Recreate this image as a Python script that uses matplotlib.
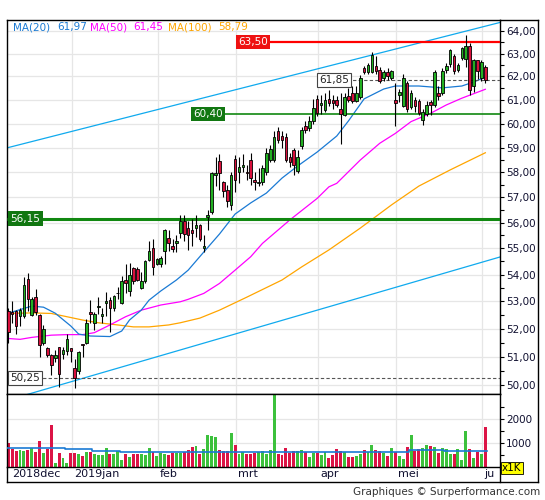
import matplotlib
matplotlib.use('Agg')
import matplotlib.pyplot as plt
import matplotlib.transforms as mtransforms
from matplotlib.lines import Line2D
from matplotlib.ticker import FixedLocator, FuncFormatter, NullFormatter
import numpy as np
import pandas as pd

# trading days shown (Euronext calendar)
HOLIDAYS = ['2018-12-25', '2018-12-26', '2019-01-01', '2019-04-19', '2019-04-22', '2019-05-01']
dates = pd.bdate_range('2018-12-05', '2019-06-03', freq='C', holidays=HOLIDAYS)
month_labels = ['2018dec', '2019jan', 'feb', 'mrt', 'apr', 'mei', 'ju']

opens = [
    52.64, 52.60, 52.65, 52.45, 52.45, 53.85, 52.50, 53.15, 52.50, 51.50,
    51.30, 51.05, 50.95, 51.35, 51.10, 51.20, 51.30, 50.60, 50.50, 51.45,
    51.50, 52.60, 52.20, 52.80, 52.45, 52.95, 53.05, 52.75, 53.30, 52.95,
    53.80, 53.40, 54.25, 54.20, 53.50, 53.75, 54.55, 55.00, 54.40, 54.40,
    54.90, 55.40, 55.10, 55.20, 55.60, 56.05, 55.80, 55.70, 55.80, 55.90,
    55.00, 56.20, 56.40, 57.90, 58.45, 57.60, 57.30, 56.70, 58.55, 58.00,
    58.20, 58.00, 58.50, 57.70, 57.55, 57.60, 58.00, 58.50, 58.50, 59.70,
    59.50, 59.45, 58.60, 58.90, 58.05, 59.05, 59.90, 59.80, 60.10, 61.05,
    60.80, 60.55, 61.05, 61.00, 61.00, 60.60, 60.35, 61.15, 61.30, 60.95,
    61.10, 62.35, 62.20, 62.20, 62.45, 62.30, 61.95, 62.20, 61.95, 61.00,
    61.20, 60.75, 61.70, 60.70, 61.00, 60.95, 60.15, 60.40, 60.90, 60.80,
    61.30, 61.30, 62.30, 62.55, 62.90, 62.30, 62.80, 62.75, 63.35, 61.60,
    62.70, 61.95, 62.40]
highs = [
    52.75, 53.00, 52.70, 52.75, 53.90, 54.05, 53.15, 53.45, 52.55, 52.15,
    51.35, 51.10, 51.25, 51.35, 51.35, 51.80, 51.30, 50.90, 51.20, 51.45,
    52.35, 53.05, 52.60, 53.15, 52.75, 53.35, 53.15, 53.25, 53.55, 53.95,
    54.40, 54.45, 54.30, 54.30, 54.10, 54.55, 55.30, 55.35, 54.65, 54.70,
    55.75, 55.70, 55.35, 55.50, 56.30, 56.30, 56.05, 56.15, 56.30, 55.95,
    55.50, 56.50, 58.00, 58.60, 58.75, 57.65, 57.50, 58.00, 58.70, 58.60,
    58.75, 58.30, 58.80, 58.00, 58.15, 58.30, 59.00, 59.10, 59.70, 59.85,
    59.70, 59.60, 58.80, 59.00, 58.90, 59.85, 60.10, 60.30, 61.05, 61.20,
    61.20, 61.30, 61.40, 61.20, 61.15, 61.30, 61.30, 61.50, 61.60, 61.60,
    62.05, 62.45, 62.60, 63.05, 62.90, 62.40, 62.30, 62.35, 62.30, 61.70,
    61.45, 62.10, 61.80, 61.40, 61.10, 61.05, 60.60, 60.95, 61.00, 62.30,
    61.60, 62.35, 62.60, 63.20, 63.00, 62.60, 63.30, 63.80, 63.45, 62.75,
    62.70, 62.70, 62.50]
lows = [
    51.49, 52.20, 51.80, 52.10, 52.40, 52.65, 52.45, 52.50, 51.00, 51.40,
    51.00, 50.35, 50.80, 49.95, 50.90, 51.05, 50.80, 49.90, 50.40, 51.00,
    51.45, 52.20, 51.95, 52.55, 52.20, 52.45, 51.90, 52.65, 53.10, 52.90,
    53.30, 53.20, 53.65, 53.75, 53.45, 53.70, 54.50, 54.00, 54.35, 54.30,
    54.40, 54.90, 54.85, 54.85, 55.40, 55.30, 54.95, 55.10, 55.45, 55.30,
    54.85, 55.70, 56.35, 57.45, 57.30, 57.00, 56.60, 56.50, 57.20, 57.55,
    58.00, 57.70, 57.50, 57.30, 57.45, 57.50, 57.90, 58.40, 58.40, 59.20,
    59.00, 58.40, 58.20, 57.90, 57.95, 58.95, 59.60, 59.70, 60.00, 60.30,
    60.40, 60.50, 60.75, 60.60, 60.70, 59.15, 60.30, 60.90, 60.85, 60.90,
    61.05, 62.10, 62.10, 62.15, 62.10, 61.70, 61.80, 61.85, 61.85, 59.90,
    60.90, 60.70, 60.50, 60.60, 60.50, 60.35, 59.95, 60.30, 60.35, 60.70,
    61.00, 61.20, 62.15, 62.40, 62.10, 62.20, 62.70, 62.40, 61.20, 61.35,
    61.90, 61.80, 61.70]
closes = [
    51.88, 52.55, 52.10, 52.70, 53.60, 53.10, 53.10, 52.60, 51.40, 52.00,
    51.05, 50.70, 51.05, 50.40, 51.25, 51.65, 51.20, 50.25, 51.15, 51.40,
    52.20, 52.55, 52.55, 52.85, 52.55, 53.00, 52.75, 53.20, 53.30, 53.75,
    53.70, 54.00, 53.75, 53.80, 53.75, 54.50, 54.90, 54.30, 54.60, 54.65,
    55.70, 55.20, 54.98, 55.30, 56.05, 55.55, 55.50, 55.60, 55.90, 55.35,
    55.10, 56.30, 57.95, 57.95, 57.95, 57.25, 56.85, 57.90, 57.70, 58.20,
    58.30, 57.95, 57.75, 57.60, 57.60, 58.15, 58.80, 58.95, 59.45, 59.30,
    59.30, 58.50, 58.40, 58.30, 58.60, 59.75, 59.75, 60.10, 60.65, 60.45,
    60.85, 61.00, 60.85, 60.85, 60.80, 60.40, 61.10, 61.00, 60.95, 61.30,
    61.95, 62.20, 62.50, 62.95, 62.25, 61.80, 62.20, 62.00, 62.25, 60.85,
    61.35, 61.95, 60.60, 61.30, 60.75, 60.45, 60.50, 60.80, 60.80, 62.20,
    61.15, 62.25, 62.45, 63.15, 62.25, 62.50, 63.25, 63.35, 61.40, 62.70,
    62.25, 62.65, 61.85]
volumes = [
    1013, 750, 667, 708, 681, 708, 778, 639, 1097, 569,
    764, 1764, 181, 597, 375, 181, 597, 597, 542, 458,
    639, 639, 542, 500, 500, 792, 542, 542, 667, 292,
    542, 431, 542, 542, 542, 486, 778, 625, 458, 569,
    528, 500, 569, 597, 569, 625, 708, 847, 875, 542,
    736, 1333, 1292, 1250, 694, 667, 667, 1431, 917, 542,
    639, 542, 542, 569, 625, 667, 542, 708, 3300, 542,
    500, 792, 597, 667, 667, 708, 639, 431, 569, 597,
    500, 639, 361, 500, 750, 667, 611, 431, 431, 472,
    542, 708, 611, 917, 708, 667, 597, 458, 778, 611,
    458, 333, 847, 1333, 667, 764, 806, 917, 875, 847,
    597, 806, 750, 542, 528, 750, 292, 1514, 750, 375,
    639, 528, 1681]

# moving averages (candle index, value)
ma20_idx = [0, 6, 9, 12, 16, 18, 21, 26, 29, 31, 34, 36, 39, 43, 46, 50, 54, 58, 62, 66,
            70, 74, 79, 84, 87, 91, 96, 99, 105, 111, 116, 119, 122]
ma20_val = [52.57, 52.83, 52.79, 52.57, 52.10, 51.81, 51.74, 51.72, 51.92, 52.32, 52.68,
            53.05, 53.39, 53.80, 54.17, 54.86, 55.55, 56.33, 56.77, 57.16, 57.76, 58.25,
            58.82, 59.48, 60.11, 61.04, 61.46, 61.59, 61.59, 61.51, 61.59, 61.76, 61.97]
ma50_idx = [0, 3, 6, 11, 15, 19, 22, 26, 30, 34, 39, 44, 46, 50, 54, 58, 62, 65, 72, 79,
            82, 84, 90, 95, 99, 103, 108, 112, 116, 122]
ma50_val = [51.65, 51.62, 51.69, 51.77, 51.79, 51.79, 51.86, 52.14, 52.44, 52.68, 52.87,
            52.99, 53.08, 53.30, 53.67, 54.17, 54.68, 55.19, 56.10, 56.95, 57.41, 57.55,
            58.49, 59.18, 59.59, 60.08, 60.43, 60.78, 61.07, 61.45]
ma100_idx = [0, 3, 6, 11, 15, 19, 23, 28, 32, 36, 41, 44, 49, 54, 61, 70, 75, 82, 90, 98,
             105, 113, 122]
ma100_val = [52.57, 52.57, 52.58, 52.56, 52.44, 52.32, 52.22, 52.14, 52.07, 52.07, 52.14,
             52.22, 52.39, 52.68, 53.16, 53.80, 54.29, 54.94, 55.78, 56.69, 57.44, 58.09,
             58.79]
ma_names = ['MA(20)', 'MA(50)', 'MA(100)']
ma_last = ['61,97', '61,45', '58,79']

# volume average (step line)
vol_ma_start = [0, 15, 22, 29, 36, 68, 103, 112]
vol_ma_level = [778, 736, 681, 639, 611, 639, 694, 667]

# trend channel end points
channel_x = [-0.33, 125.75]
channel_upper = [58.99, 64.38]
channel_lower = [49.47, 54.67]

# price levels
resistance = 63.50
support_hi = 60.40
support_lo = 56.15
last_close = 61.85
lowest_close = 50.25

W, H = 545, 500
GREEN = '#22b022'
RED = '#d8103c'
GRID = '#e6e6e6'
MA_COLORS = ['#1a7ad4', '#ff00ff', '#ffa500']
TXT = '#101030'


def fx(px):
    return px / W


def fy(py):
    return 1 - py / H


def fmt_price(v):
    return '{:.2f}'.format(v).replace('.', ',')


def main():
    fig = plt.figure(figsize=(W / 100, H / 100), dpi=100)
    ax = fig.add_axes([fx(7), fy(394), (500 - 7) / W, (394 - 20) / H])
    axv = fig.add_axes([fx(7), fy(467), (500 - 7) / W, (467 - 394) / H], sharex=ax)

    x = np.arange(len(closes))
    o, h, l, c = (np.array(a) for a in (opens, highs, lows, closes))
    up = c >= o
    colors = np.where(up, GREEN, RED)

    # month grid
    months = pd.Series(dates.month)
    first_idx = [0] + [i for i in range(1, len(dates)) if months[i] != months[i - 1]]
    bounds = [i - 0.75 for i in first_idx[1:]]
    for b in bounds:
        ax.axvline(b, color=GRID, lw=0.9, zorder=0)
        axv.axvline(b, color=GRID, lw=0.9, zorder=0)

    # price axis
    ax.set_yscale('log')
    ax.set_ylim(49.69, 64.49)
    ax.set_xlim(channel_x[0], channel_x[1])
    ax.yaxis.tick_right()
    ax.yaxis.set_major_locator(FixedLocator(np.arange(50, 65, 1.0)))
    ax.yaxis.set_major_formatter(FuncFormatter(lambda v, p: fmt_price(v)))
    ax.yaxis.set_minor_locator(FixedLocator(np.arange(50.5, 64.5, 1.0)))
    ax.yaxis.set_minor_formatter(NullFormatter())
    ax.tick_params(axis='y', which='both', direction='out', length=3, width=0.8,
                   pad=1.5, labelsize=7.5, labelcolor=TXT)
    ax.tick_params(axis='x', which='both', bottom=False, labelbottom=False)
    ax.grid(axis='y', which='major', color=GRID, lw=0.9, zorder=0)
    ax.set_axisbelow(True)

    # channel and moving averages
    ax.plot(channel_x, channel_upper, color='#10aaee', lw=0.9, zorder=2)
    ax.plot(channel_x, channel_lower, color='#10aaee', lw=0.9, zorder=2)
    ax.plot(ma100_idx, ma100_val, color=MA_COLORS[2], lw=0.9, zorder=2)
    ax.plot(ma50_idx, ma50_val, color=MA_COLORS[1], lw=0.9, zorder=2)
    ax.plot(ma20_idx, ma20_val, color=MA_COLORS[0], lw=0.9, zorder=2)

    # levels with their boxes
    trans = mtransforms.blended_transform_factory(ax.transAxes, ax.transData)
    ax.hlines(resistance, 0.47, 1, transform=trans, color='#ff0000', lw=1.6, zorder=3)
    ax.hlines(support_hi, 0.378, 1, transform=trans, color='#118811', lw=1.2, zorder=3)
    ax.hlines(support_lo, 0, 1, transform=trans, color='#118811', lw=2.2, zorder=3)
    ax.hlines(last_close, 0.69, 1, transform=trans, color='#555555', lw=0.8,
              linestyles=(0, (3, 2)), zorder=3)
    ax.hlines(lowest_close, 0.06, 1, transform=trans, color='#555555', lw=0.8,
              linestyles=(0, (3, 2)), zorder=3)
    boxes = [(resistance, 0.4685, 'white', '#ee1111', 'none'),
             (support_hi, 0.378, 'white', '#117711', 'none'),
             (support_lo, 0.007, 'white', '#117711', 'none'),
             (last_close, 0.633, '#222222', 'white', '#444444'),
             (lowest_close, 0.007, '#222222', 'white', '#444444')]
    for value, xpos, tc, fc, ec in boxes:
        ax.text(xpos, value, fmt_price(value), transform=trans, ha='left', va='center',
                fontsize=7.5, color=tc, zorder=6,
                bbox=dict(boxstyle='square,pad=0.22', fc=fc, ec=ec, lw=0.8))

    # candles
    ax.vlines(x, l, h, color='black', lw=0.8, zorder=4)
    ax.bar(x, np.maximum(np.abs(c - o), 0.012), bottom=np.minimum(o, c), width=0.66,
           color=colors, edgecolor='black', linewidth=0.6, zorder=5)

    # volume panel
    axv.bar(x, volumes, width=0.75, color=np.where(up, '#3cc13c', '#dc1446'), zorder=2)
    step_x = [s - 0.5 for s in vol_ma_start] + [len(x) - 0.5]
    step_y = vol_ma_level + [vol_ma_level[-1]]
    axv.step(step_x, step_y, where='post', color=MA_COLORS[0], lw=1.2, zorder=3)
    axv.set_ylim(0, 3040)
    axv.yaxis.tick_right()
    axv.yaxis.set_major_locator(FixedLocator([1000, 2000]))
    axv.yaxis.set_minor_locator(FixedLocator([500, 1500, 2500]))
    axv.tick_params(axis='y', which='both', direction='out', length=3, width=0.8,
                    pad=1.5, labelsize=7.5, labelcolor=TXT)
    axv.tick_params(axis='x', which='both', bottom=False, labelbottom=False)
    axv.grid(axis='y', which='major', color=GRID, lw=0.9, zorder=0)
    axv.set_axisbelow(True)

    for a in (ax, axv):
        for sp in a.spines.values():
            sp.set_linewidth(1.0)
            sp.set_color('black')

    # month labels under the volume bars
    tv = mtransforms.blended_transform_factory(axv.transData, axv.transAxes)
    label_x = [0.95] + [b + 0.5 for b in bounds]
    for name, lx in zip(month_labels, label_x):
        axv.text(lx, -0.1, name, transform=tv, ha='left', va='center', fontsize=8,
                 color=TXT, clip_on=False)

    # legend on top
    pos = [(13, 0), (57, 0), (90, 1), (133, 1), (168, 2), (218, 2)]
    items = [ma_names[0], ma_last[0], ma_names[1], ma_last[1], ma_names[2], ma_last[2]]
    for (px, k), label in zip(pos, items):
        fig.text(fx(px), fy(27), label, color=MA_COLORS[k], fontsize=7.5, va='center')

    # outer frame
    frame = [([500, 538], [20, 20]), ([538, 538], [20, 482]), ([7, 538], [482, 482]),
             ([7, 7], [467, 482]), ([500, 500], [467, 482])]
    for xs, ys in frame:
        fig.add_artist(Line2D([fx(v) for v in xs], [fy(v) for v in ys], color='black', lw=1.0))

    fig.text(fx(502), fy(468), 'x1K', fontsize=7.5, ha='left', va='center', color='black',
             bbox=dict(boxstyle='square,pad=0.12', fc='#ffff00', ec='black', lw=0.6))
    fig.text(fx(540), fy(492), 'Graphiques \u00a9 Surperformance.com', ha='right',
             va='center', fontsize=7.5, color='#333333')

    fig.savefig('out.png', dpi=100)


if __name__ == '__main__':
    main()
